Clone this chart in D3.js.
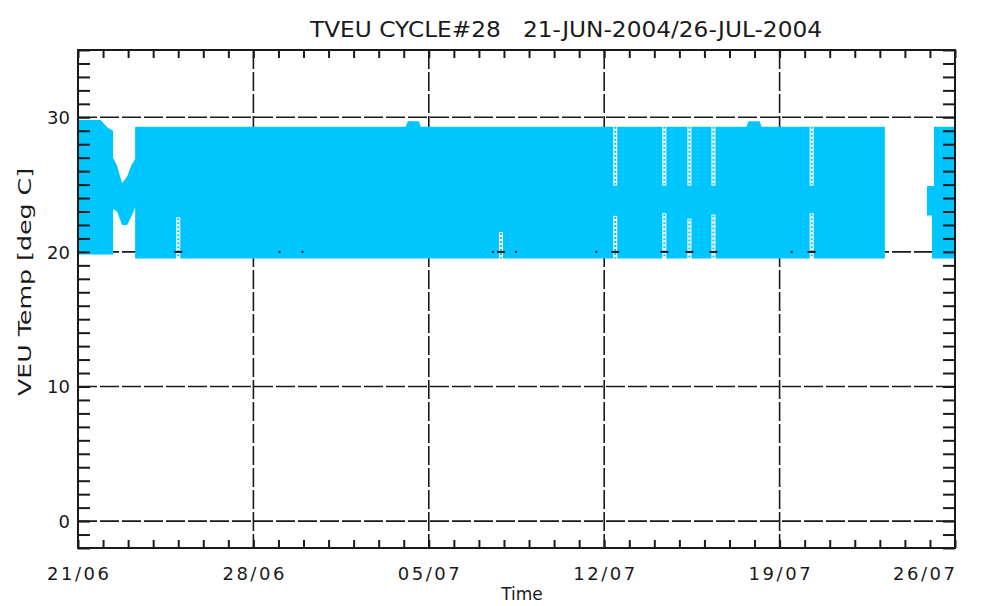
<!DOCTYPE html>
<html><head><meta charset="utf-8">
<script src="https://cdn.jsdelivr.net/npm/d3@7"></script>
<style>html,body{margin:0;padding:0;background:#fff;} svg{display:block;}</style>
</head><body>
<script>
// ---------------- data ----------------
const titleText = "TVEU CYCLE#28   21-JUN-2004/26-JUL-2004";
const yAxisTitle = "VEU Temp [deg C]";
const xAxisTitle = "Time";
const startDay = "2004-06-21";
const endDay = "2004-07-26";
const xTickDays = [0, 7, 14, 21, 28, 35];
const xTickLabels = ["21/06", "28/06", "05/07", "12/07", "19/07", "26/07"];
const yTickValues = [0, 10, 20, 30];
const yDomain = [-2, 35];

// envelope of the (very dense) temperature samples: day offset from 21/06, lower and upper bound in deg C; null = no data
const bandDay  = [0,    0.9,  1.0,  1.2,  1.4,  1.4,  1.56, 1.76, 1.96, 2.12, 2.28, 2.28, 13.08, 13.16, 13.6, 13.68, 26.68, 26.76, 27.2, 27.28, 32.2, 32.25, 33.88, 34.08, 34.08, 34.16, 34.16, 35];
const bandLow  = [19.8, 19.8, 19.8, 19.8, 19.8, 23.2, 23.0, 22.0, 22.0, 22.6, 23.3, 19.5, 19.5,  19.5,  19.5, 19.5,  19.5,  19.5,  19.5, 19.5,  19.5, null,  22.7,  22.7,  19.5,  19.5,  19.5,  19.5];
const bandHigh = [29.8, 29.8, 29.6, 29.2, 29.0, 27.0, 26.4, 25.1, 25.6, 26.4, 26.9, 29.3, 29.3,  29.7,  29.7, 29.3,  29.3,  29.7,  29.7, 29.3,  29.3, null,  24.9,  24.9,  24.9,  24.9,  29.3,  29.3];

// short intervals where samples are sparse (day offset, value ranges with sparse data)
const sparseDay       = [4.0,  16.88, 21.44, 23.4, 24.4, 25.36, 29.28];
const sparseUpperFrom = [null, null,  25.0,  25.0, 25.0, 25.0,  25.0];
const sparseUpperTo   = [null, null,  29.3,  29.3, 29.3, 29.3,  29.3];
const sparseLowerFrom = [19.5, 19.5,  19.5,  19.5, 19.5, 19.5,  19.5];
const sparseLowerTo   = [22.5, 21.4,  22.6,  22.8, 22.4, 22.7,  22.8];

// black samples at 20 deg C
const markValue = 20;
const markDashDay = [4.0, 16.88, 21.44, 23.4, 24.4, 25.36, 29.28];
const markDotDay  = [8.04, 8.96, 16.56, 17.48, 20.68, 28.48];

// ---------------- chart ----------------
const W = 986, H = 606;
const L = 78, R = 955, T = 50, B = 548;
const blue = "#00c6ff";
const ink = "#1a1a1a";
const font = "'DejaVu Sans', 'Liberation Sans', sans-serif";

const t0 = new Date(startDay + "T00:00:00Z");
const t1 = new Date(endDay + "T00:00:00Z");
const dayToDate = d => new Date(t0.getTime() + d * 864e5);

const x = d3.scaleUtc().domain([t0, t1]).range([L, R]);
const y = d3.scaleLinear().domain(yDomain).range([B, T]);

const svg = d3.select("body").append("svg").attr("width", W).attr("height", H);

// grid (dashed, under the data)
const grid = svg.append("g").attr("stroke", ink).attr("stroke-width", 1.6).attr("stroke-dasharray", "19,3");
grid.selectAll("line.v").data(xTickDays.slice(1, -1)).join("line")
  .attr("x1", d => x(dayToDate(d))).attr("x2", d => x(dayToDate(d)))
  .attr("y1", T).attr("y2", B);
grid.selectAll("line.h").data(yTickValues).join("line")
  .attr("x1", L).attr("x2", R)
  .attr("y1", d => y(d)).attr("y2", d => y(d));

// mask for sparse columns
const colW = 4;
const defs = svg.append("defs");
const mask = defs.append("mask").attr("id", "sparse");
mask.append("rect").attr("x", 0).attr("y", 0).attr("width", W).attr("height", H).attr("fill", "#fff");
const sparseRanges = [];
sparseDay.forEach((d, i) => {
  if (sparseUpperFrom[i] != null) sparseRanges.push({d, a: sparseUpperFrom[i], b: sparseUpperTo[i]});
  if (sparseLowerFrom[i] != null) sparseRanges.push({d, a: sparseLowerFrom[i], b: sparseLowerTo[i]});
});
mask.selectAll("rect.gap").data(sparseRanges).join("rect")
  .attr("x", r => x(dayToDate(r.d)) - colW / 2)
  .attr("width", colW)
  .attr("y", r => y(r.b) - 1)
  .attr("height", r => y(r.a) - y(r.b) + 2)
  .attr("fill", "#000");

defs.append("clipPath").attr("id", "plot").append("rect")
  .attr("x", L).attr("y", T).attr("width", R - L).attr("height", B - T);

// data band
const bandData = bandDay.map((d, i) => ({d, lo: bandLow[i], hi: bandHigh[i]}));
const area = d3.area()
  .defined(p => p.lo != null && p.hi != null)
  .x(p => x(dayToDate(p.d)))
  .y0(p => y(p.lo))
  .y1(p => y(p.hi));
svg.append("path")
  .datum(bandData)
  .attr("d", area)
  .attr("fill", blue)
  .attr("clip-path", "url(#plot)")
  .attr("mask", "url(#sparse)");

// sparse samples as dotted blue columns
svg.append("g").selectAll("line").data(sparseRanges).join("line")
  .attr("x1", r => x(dayToDate(r.d))).attr("x2", r => x(dayToDate(r.d)))
  .attr("y1", r => y(r.b)).attr("y2", r => y(r.a))
  .attr("stroke", blue).attr("stroke-width", 2).attr("stroke-dasharray", "2,2");

// black samples at 20
svg.append("g").selectAll("line").data(markDashDay).join("line")
  .attr("x1", d => x(dayToDate(d)) - 4).attr("x2", d => x(dayToDate(d)) + 4)
  .attr("y1", y(markValue)).attr("y2", y(markValue))
  .attr("stroke", ink).attr("stroke-width", 2);
svg.append("g").selectAll("rect").data(markDotDay).join("rect")
  .attr("x", d => x(dayToDate(d)) - 1).attr("y", y(markValue) - 1)
  .attr("width", 2).attr("height", 2).attr("fill", ink);

// minor ticks via d3 axes
const dayTicks = d3.range(0, 36).map(dayToDate);
const valTicks = d3.range(yDomain[0], yDomain[1] + 1);
function styleAxis(g) {
  g.select(".domain").remove();
  g.selectAll(".tick line").attr("stroke", ink).attr("stroke-width", 2);
  g.selectAll(".tick text").remove();
}
svg.append("g").attr("transform", `translate(0,${B})`)
  .call(d3.axisBottom(x).tickValues(dayTicks).tickSize(-8).tickFormat(""))
  .call(styleAxis);
svg.append("g").attr("transform", `translate(0,${T})`)
  .call(d3.axisTop(x).tickValues(dayTicks).tickSize(-8).tickFormat(""))
  .call(styleAxis);
svg.append("g").attr("transform", `translate(${L},0)`)
  .call(d3.axisLeft(y).tickValues(valTicks).tickSize(-12).tickFormat(""))
  .call(styleAxis);
svg.append("g").attr("transform", `translate(${R},0)`)
  .call(d3.axisRight(y).tickValues(valTicks).tickSize(-12).tickFormat(""))
  .call(styleAxis);

// frame
svg.append("rect").attr("x", L).attr("y", T).attr("width", R - L).attr("height", B - T)
  .attr("fill", "none").attr("stroke", ink).attr("stroke-width", 2);

// tick labels
svg.append("g").selectAll("text").data(xTickDays).join("text")
  .attr("x", (d, i) => i === xTickDays.length - 1 ? x(dayToDate(d)) - 31 : x(dayToDate(d)))
  .attr("y", 580)
  .attr("text-anchor", "middle")
  .attr("font-family", font).attr("font-size", 18).attr("fill", ink)
  .attr("textLength", 62).attr("lengthAdjust", "spacing")
  .text((d, i) => xTickLabels[i]);

svg.append("g").selectAll("text").data(yTickValues).join("text")
  .attr("x", 70)
  .attr("y", d => y(d) + 7)
  .attr("text-anchor", "end")
  .attr("font-family", font).attr("font-size", 18).attr("fill", ink)
  .text(d => d);

// titles
svg.append("text")
  .attr("x", 310).attr("y", 37)
  .attr("font-family", font).attr("font-size", 22).attr("fill", ink)
  .attr("textLength", 512).attr("lengthAdjust", "spacingAndGlyphs")
  .style("white-space", "pre")
  .text(titleText);

svg.append("text")
  .attr("x", 522).attr("y", 600)
  .attr("text-anchor", "middle")
  .attr("font-family", font).attr("font-size", 17).attr("fill", ink)
  .text(xAxisTitle);

svg.append("text")
  .attr("transform", "translate(31,282) rotate(-90)")
  .attr("text-anchor", "middle")
  .attr("font-family", font).attr("font-size", 18).attr("fill", ink)
  .attr("textLength", 228).attr("lengthAdjust", "spacingAndGlyphs")
  .text(yAxisTitle);
</script>
</body></html>
